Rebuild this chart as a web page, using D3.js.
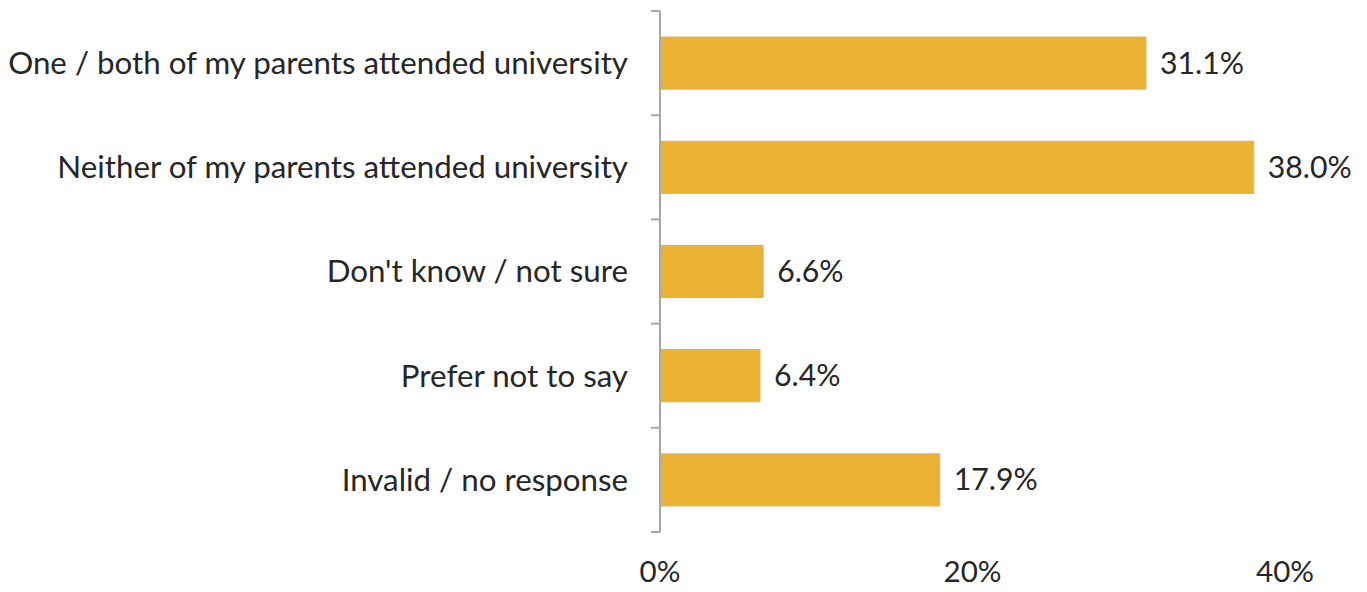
<!DOCTYPE html>
<html><head><meta charset="utf-8">
<script src="https://cdn.jsdelivr.net/npm/d3@7"></script>
<style>body{margin:0;background:#fff}svg{display:block}</style>
</head><body>
<svg id="c" width="1367" height="592"></svg>
<script>
const categories = ["One / both of my parents attended university","Neither of my parents attended university","Don't know / not sure","Prefer not to say","Invalid / no response"];
const values = [31.1, 38.0, 6.6, 6.4, 17.9];
const tickValues = [0, 20, 40];

const svg = d3.select("#c");
const font = "Lato, 'Open Sans', sans-serif";
const x = d3.scaleLinear().domain([0, 40]).range([660, 1285]);
const y = d3.scaleBand().domain(categories).range([11, 532]).paddingInner(0.5).paddingOuter(0.25);

function fit(sample, target, base) {
  const t = svg.append("text").attr("font-family", font).attr("font-size", base).text(sample);
  const w = t.node().getComputedTextLength();
  t.remove();
  return base * target / w;
}
const catSize = fit(categories[0], 620, 26);
const valSize = fit("31.1%", 84, 26);
const tickSize = fit("40%", 58, 26);

svg.append("g").selectAll("rect").data(values).join("rect")
  .attr("x", x(0)).attr("y", (d, i) => y(categories[i]))
  .attr("width", d => x(d) - x(0)).attr("height", y.bandwidth())
  .attr("fill", "#ECB234").attr("stroke", "#d8b060").attr("stroke-width", 1);

const yAxisScale = d3.scalePoint().domain(d3.range(6)).range([11, 532]);
const ga = svg.append("g");
ga.append("line").attr("x1", 660).attr("x2", 660).attr("y1", 11).attr("y2", 532)
  .attr("stroke", "#a6a6a6").attr("stroke-width", 2);
ga.selectAll("line.t").data(d3.range(6)).join("line").attr("class", "t")
  .attr("x1", 651).attr("x2", 660).attr("y1", d => yAxisScale(d)).attr("y2", d => yAxisScale(d))
  .attr("stroke", "#a6a6a6").attr("stroke-width", 2);

svg.append("g").selectAll("text").data(categories).join("text")
  .attr("x", 628).attr("y", d => y(d) + y.bandwidth() / 2)
  .attr("dy", "0.35em").attr("text-anchor", "end")
  .attr("font-family", font).attr("font-size", catSize).attr("fill", "#262626").text(d => d);

svg.append("g").selectAll("text").data(values).join("text")
  .attr("x", d => x(d) + 14).attr("y", (d, i) => y(categories[i]) + y.bandwidth() / 2)
  .attr("dy", "0.35em").attr("font-family", font).attr("font-size", valSize).attr("fill", "#262626")
  .text(d => d.toFixed(1) + "%");

svg.append("g").selectAll("text").data(tickValues).join("text")
  .attr("x", d => x(d)).attr("y", 582).attr("text-anchor", "middle")
  .attr("font-family", font).attr("font-size", tickSize).attr("fill", "#262626")
  .text(d => d + "%");
</script>
</body></html>
